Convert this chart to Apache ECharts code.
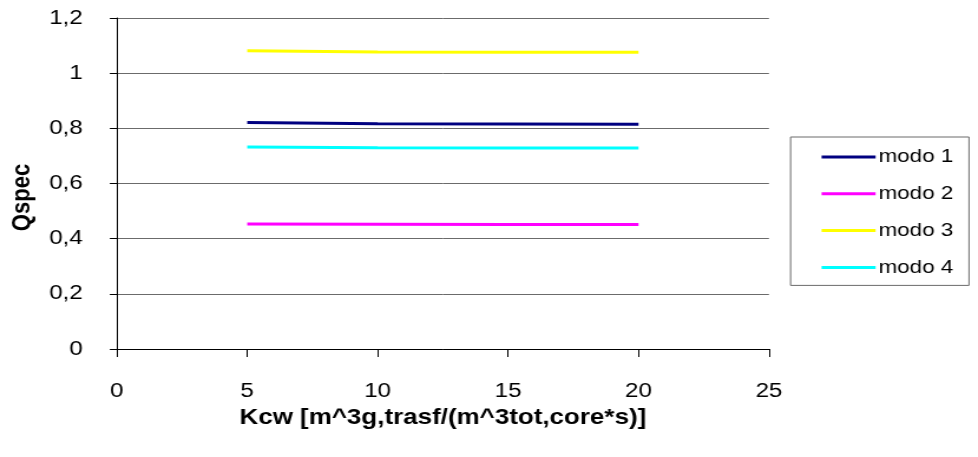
<!DOCTYPE html>
<html>
<head>
<meta charset="utf-8">
<script src="https://cdn.jsdelivr.net/npm/echarts@6/dist/echarts.min.js"></script>
<style>
  html, body { margin: 0; padding: 0; background: #fff; overflow: hidden; }
  /* the chart is laid out narrower and widened horizontally so the
     lettering gets the same broad proportions as the spreadsheet export */
  #chart { width: 829px; height: 457px; transform: scaleX(1.1797); transform-origin: 0 0; }
</style>
</head>
<body>
<div id="chart"></div>
<script>
// Kcw values sampled for each operating mode
const kcw = [5, 10, 15, 20];

// Qspec per mode
const modo1 = [0.821, 0.817, 0.816, 0.815];
const modo2 = [0.453, 0.452, 0.451, 0.451];
const modo3 = [1.081, 1.077, 1.076, 1.076];
const modo4 = [0.732, 0.730, 0.729, 0.729];

const seriesNames = ['modo 1', 'modo 2', 'modo 3', 'modo 4'];
const seriesValues = [modo1, modo2, modo3, modo4];
const seriesColors = ['#000080', '#FF00FF', '#FFFF00', '#00FFFF'];

const xTitle = 'Kcw [m^3g,trasf/(m^3tot,core*s)]';
const yTitle = 'Qspec';

const FONT = '"Liberation Sans", Arial, sans-serif';

function commaDecimal(v) {
  const r = Math.round(v * 10) / 10;
  return String(r).replace('.', ',');
}

const chart = echarts.init(document.getElementById('chart'), null, { renderer: 'canvas' });

chart.setOption({
  animation: false,
  backgroundColor: '#ffffff',
  textStyle: { fontFamily: FONT, color: '#000' },
  grid: { left: 96.6, right: 177.2, top: 18, bottom: 108, containLabel: false },
  xAxis: {
    type: 'value',
    min: 0, max: 25, interval: 5,
    axisLine: { lineStyle: { color: '#000', width: 1 } },
    axisTick: { show: true, inside: false, length: 8, lineStyle: { color: '#000' } },
    axisLabel: { margin: 32, fontSize: 20.5, color: '#000', fontFamily: FONT },
    splitLine: { show: false },
    name: xTitle,
    nameLocation: 'middle',
    nameGap: 49,
    nameTextStyle: { fontSize: 22, fontWeight: 'bold', color: '#000', fontFamily: FONT }
  },
  yAxis: {
    type: 'value',
    min: 0, max: 1.2, interval: 0.2,
    axisLine: { show: true, lineStyle: { color: '#000', width: 1 } },
    axisTick: { show: true, inside: false, length: 5.9, lineStyle: { color: '#000' } },
    axisLabel: { margin: 28.8, fontSize: 20.5, color: '#000', fontFamily: FONT, formatter: commaDecimal },
    splitLine: { show: true, lineStyle: { color: '#6b6b6b', width: 1 } },
    name: yTitle,
    nameLocation: 'middle',
    nameGap: 69,
    nameRotate: 90,
    nameTextStyle: { fontSize: 22, fontWeight: 'bold', color: '#000', fontFamily: FONT, padding: [0, 28, 0, 0] }
  },
  legend: {
    orient: 'vertical',
    right: 7.6,
    top: 137,
    padding: [10, 13.3, 8, 26.3],
    icon: 'rect',
    itemWidth: 45.8,
    itemHeight: 3,
    itemGap: 16.8,
    borderColor: '#6b6b6b',
    borderWidth: 1,
    textStyle: { fontSize: 19, lineHeight: 20, color: '#000', fontFamily: FONT, padding: [0, 0, 0, -2.5] },
    data: seriesNames
  },
  series: seriesNames.map((name, i) => ({
    name: name,
    type: 'line',
    symbol: 'none',
    data: kcw.map((x, j) => [x, seriesValues[i][j]]),
    lineStyle: { color: seriesColors[i], width: 3 },
    itemStyle: { color: seriesColors[i] }
  }))
});
</script>
</body>
</html>
